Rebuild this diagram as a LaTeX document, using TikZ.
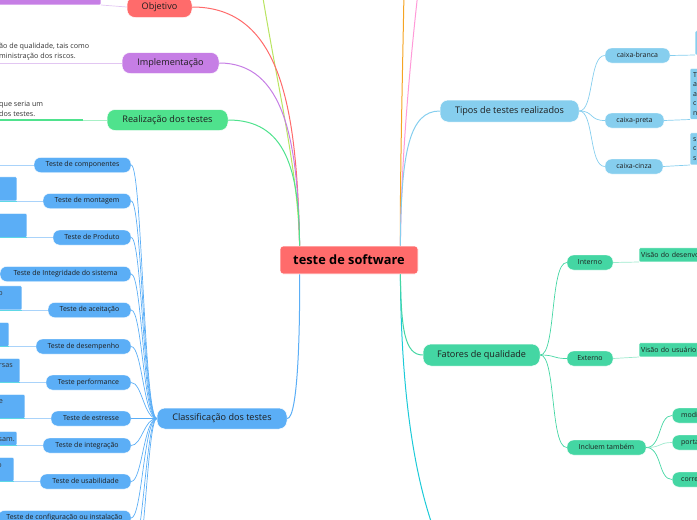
\documentclass[tikz,border=0pt]{standalone}
\usepackage{fontspec}
\setmainfont{Open Sans}
\usetikzlibrary{positioning}
\definecolor{objred}{HTML}{FF6B6B}
\definecolor{implpurple}{HTML}{C67EE5}
\definecolor{impllight}{HTML}{E2C6F2}
\definecolor{realgreen}{HTML}{4FE28D}
\definecolor{reallight}{HTML}{A8F0C6}
\definecolor{classblue}{HTML}{5BAEF6}
\definecolor{classlight}{HTML}{A9D3FA}
\definecolor{underteal}{HTML}{5ED8E6}
\definecolor{tiposblue}{HTML}{86CEEE}
\definecolor{fatgreen}{HTML}{44D6A3}
\definecolor{fatlight}{HTML}{9CE9CD}
\definecolor{limeline}{HTML}{B9E461}
\definecolor{orangeline}{HTML}{F5A524}
\definecolor{pinkline}{HTML}{FF9AD8}
\definecolor{cyanline}{HTML}{1CCAD8}
\definecolor{ink}{HTML}{1E1E1E}
\tikzset{
  root/.style   = {fill=objred, draw=white, line width=0.8pt, rounded corners=3pt,
                   minimum width=138pt, minimum height=28pt, inner sep=0pt,
                   font=\fontsize{12.8}{14}\selectfont\bfseries},
  topic/.style  = {fill=#1, draw=white, line width=0.5pt, rounded corners=8pt,
                   minimum height=21pt, inner sep=0pt, text=ink,
                   text height=6.6pt, text depth=2pt,
                   font=\fontsize{9.1}{10}\selectfont},
  pill/.style   = {fill=#1, draw=white, line width=0.4pt, rounded corners=6.5pt,
                   minimum height=15pt, inner sep=0pt, text=ink,
                   text height=5pt, text depth=1.5pt,
                   font=\fontsize{7}{8}\selectfont},
  leafbox/.style= {fill=#1, draw=white, line width=0.4pt, rounded corners=1pt,
                   inner sep=3pt, text=ink, align=left,
                   font=\fontsize{7}{9.4}\selectfont},
  note/.style   = {inner sep=0pt, align=left, text=black!80,
                   font=\fontsize{7.2}{10}\selectfont},
  link/.style   = {draw=#1, line width=1pt},
  twig/.style   = {draw=#1, line width=0.7pt},
}
\begin{document}
\begin{tikzpicture}[x=1pt,y=-1pt]
  \useasboundingbox (0,0) rectangle (697,520);
  \clip (0,0) rectangle (697,520);

  % centre
  \node[root] (soft) at (349,260) {teste de software};
  \coordinate (inNW) at ([xshift=20pt]soft.north west);
  \coordinate (inNE) at ([xshift=-18pt]soft.north east);
  \coordinate (inSW) at ([xshift=20pt]soft.south west);
  \coordinate (inSE) at ([xshift=-18pt]soft.south east);

  % branches above the page
  \coordinate (upLime) at (262,-8);
  \coordinate (upOrange) at (404,-8);
  \coordinate (upPink) at (418,-8);
  \coordinate (downCyan) at (434,530);
  \draw[link=limeline] (upLime) .. controls (278,90) and (298,170) .. (inNW);
  \draw[link=orangeline] (upOrange) .. controls (402,100) and (400,180) .. (inNE);
  \draw[link=pinkline] (upPink) .. controls (406,100) and (401,180) .. (inNE);
  \draw[link=cyanline] (inSE) .. controls (401,400) and (416,480) .. (downCyan);

  % left branches
  \node[topic=objred, minimum width=65pt] (obj) at (159.5,7) {Objetivo};
  \node[topic=implpurple, minimum width=97pt] (impl) at (170.5,63) {Implementação};
  \node[topic=realgreen, minimum width=121pt] (real) at (167.5,120) {Realização dos testes};
  \node[topic=classblue, minimum width=130pt] (class) at (222,418.5) {Classificação dos testes};

  \draw[link=objred] (obj.east) .. controls (282,7) and (297,110) .. (inNW);
  \draw[link=implpurple] (impl.east) .. controls (284,63) and (298,140) .. (inNW);
  \draw[link=realgreen] (real.east) .. controls (286,120) and (299,170) .. (inNW);
  \draw[link=classblue] (class.east) .. controls (298,418.5) and (300,330) .. (inSW);

  % leaves of the upper left branches
  \node[leafbox=implpurple, minimum width=130pt, minimum height=30pt,
        anchor=south east] (objleaf) at (101,5) {};
  \draw[twig=impllight] (objleaf.south east) -- (obj.west);

  \node[note, anchor=south west] (impltext) at (-1,60)
        {ão de qualidade, tais como\\ministração dos riscos.};
  \draw[twig=impllight] (impltext.south west |- impl.west) -- (impl.west);

  \node[note, anchor=south west] (realtext) at (-1,117)
        {que seria um\\dos testes.};
  \draw[twig=reallight] (realtext.south west |- real.west) -- (real.west);
  \draw[twig=realgreen, line width=1.2pt] (realtext.south west |- real.west) -- (83,120);

  % Classificacao dos testes
  \node[pill=classblue, minimum width=97pt] (comp) at (82.5,165) {Teste de componentes};
  \node[pill=classblue, minimum width=88pt] (mont) at (87,201) {Teste de montagem};
  \node[pill=classblue, minimum width=78pt] (prod) at (92,237.5) {Teste de Produto};
  \node[pill=classblue, minimum width=131pt] (integ) at (65.5,274) {Teste de Integridade do sistema};
  \node[pill=classblue, minimum width=83pt] (aceit) at (89.5,310) {Teste de aceitação};
  \node[pill=classblue, minimum width=95pt] (desemp) at (83.5,346.5) {Teste de desempenho};
  \node[pill=classblue, minimum width=85pt] (perf) at (88.5,382.5) {Teste performance};
  \node[pill=classblue, minimum width=80pt] (estr) at (91,418.5) {Teste de estresse};
  \node[pill=classblue, minimum width=88pt] (integr) at (87,445.5) {Teste de integração};
  \node[pill=classblue, minimum width=91pt] (usab) at (85.5,481.5) {Teste de usabilidade};
  \node[pill=classblue, minimum width=133pt] (config) at (64.5,518) {Teste de configuração ou instalação};
  \coordinate (moreA) at (131,555);
  \coordinate (moreB) at (131,590);

  \draw[twig=classblue] (class.west) .. controls (144,418.5) and (142,165) .. (comp.east);
  \draw[twig=classblue] (class.west) .. controls (144,418.5) and (142,201) .. (mont.east);
  \draw[twig=classblue] (class.west) .. controls (144,418.5) and (142,237.5) .. (prod.east);
  \draw[twig=classblue] (class.west) .. controls (144,418.5) and (142,274) .. (integ.east);
  \draw[twig=classblue] (class.west) .. controls (144,418.5) and (142,310) .. (aceit.east);
  \draw[twig=classblue] (class.west) .. controls (144,418.5) and (142,346.5) .. (desemp.east);
  \draw[twig=classblue] (class.west) .. controls (144,418.5) and (142,382.5) .. (perf.east);
  \draw[twig=classblue] (class.west) -- (estr.east);
  \draw[twig=classblue] (class.west) .. controls (144,418.5) and (142,445.5) .. (integr.east);
  \draw[twig=classblue] (class.west) .. controls (144,418.5) and (142,481.5) .. (usab.east);
  \draw[twig=classblue] (class.west) .. controls (144,418.5) and (142,518) .. (config.east);
  \draw[twig=classblue] (class.west) .. controls (146,418.5) and (143,555) .. (moreA);
  \draw[twig=classblue] (class.west) .. controls (147,418.5) and (144,590) .. (moreB);

  % leaves cut by the left edge
  \node[leafbox=classblue, minimum width=40pt, minimum height=24pt, anchor=south east] (montleaf) at (17,201) {};
  \node[leafbox=classblue, minimum width=50pt, minimum height=24pt, anchor=south east] (prodleaf) at (27,237.5) {};
  \node[leafbox=classblue, minimum width=45pt, minimum height=24pt, anchor=south east] (aceitleaf) at (22,310) {};
  \node[leafbox=classblue, minimum width=32pt, minimum height=24pt, anchor=south east] (desempleaf) at (9,346.5) {};
  \node[leafbox=classblue, minimum width=43pt, minimum height=24pt, anchor=south east] (perfleaf) at (20,382.5) {};
  \node[leafbox=classblue, minimum width=48pt, minimum height=24pt, anchor=south east] (estrleaf) at (25,418.5) {};
  \node[leafbox=classblue, minimum width=40pt, minimum height=14pt, anchor=south east] (integrleaf) at (17,445.5) {};
  \node[leafbox=classblue, minimum width=37pt, minimum height=24pt, anchor=south east] (usableaf) at (14,481.5) {};
  \node[note, anchor=base east] at (3,295) {o};
  \node[note, anchor=base east] at (13,367) {rsas};
  \node[note, anchor=base east] at (3,403) {e};
  \node[note, anchor=base east] at (15,441) {sam.};
  \node[note, anchor=base east] at (2,467) {o};

  \draw[twig=classlight] (montleaf.south east) -- (mont.west);
  \draw[twig=classlight] (prodleaf.south east) -- (prod.west);
  \draw[twig=classlight] (aceitleaf.south east) -- (aceit.west);
  \draw[twig=classlight] (desempleaf.south east) -- (desemp.west);
  \draw[twig=classlight] (perfleaf.south east) -- (perf.west);
  \draw[twig=classlight] (estrleaf.south east) -- (estr.west);
  \draw[twig=classlight] (integrleaf.south east) -- (integr.west);
  \draw[twig=classlight] (usableaf.south east) -- (usab.west);
  \draw[twig=classlight] (comp.west) -- ++(-40,0);
  \draw[twig=underteal] (montleaf.south west) -- (montleaf.south east);
  \draw[twig=underteal] (prodleaf.south west) -- (prodleaf.south east);
  \draw[twig=underteal] (aceitleaf.south west) -- (aceitleaf.south east);
  \draw[twig=underteal] (desempleaf.south west) -- (desempleaf.south east);
  \draw[twig=underteal] (perfleaf.south west) -- (perfleaf.south east);
  \draw[twig=underteal] (estrleaf.south west) -- (estrleaf.south east);
  \draw[twig=underteal] (integrleaf.south west) -- (integrleaf.south east);
  \draw[twig=underteal] (usableaf.south west) -- (usableaf.south east);

  % right branches
  \node[topic=tiposblue, minimum width=139pt, minimum height=22pt] (tipos) at (509.5,111) {Tipos de testes realizados};
  \node[topic=fatgreen, minimum width=117pt, minimum height=22pt] (fat) at (481.5,355) {Fatores de qualidade};
  \draw[link=tiposblue] (inNE) .. controls (401,150) and (410,111) .. (tipos.west);
  \draw[link=fatgreen] (inSE) .. controls (401,330) and (405,355) .. (fat.west);

  % Tipos de testes realizados
  \node[pill=tiposblue, minimum width=65pt] (branca) at (637.5,55.5) {caixa-branca};
  \node[pill=tiposblue, minimum width=59pt] (preta) at (634.5,120.5) {caixa-preta};
  \node[pill=tiposblue, minimum width=58pt] (cinza) at (634,166.5) {caixa-cinza};
  \draw[twig=tiposblue] (tipos.east) .. controls (594,111) and (589,55.5) .. (branca.west);
  \draw[twig=tiposblue] (tipos.east) .. controls (594,111) and (589,120.5) .. (preta.west);
  \draw[twig=tiposblue] (tipos.east) .. controls (594,111) and (589,166.5) .. (cinza.west);

  \node[leafbox=tiposblue, minimum width=40pt, minimum height=24pt, anchor=south west] (brancaleaf) at (695,55) {};
  \node[leafbox=tiposblue, text width=30pt, minimum height=51pt, anchor=south west] (pretaleaf) at (690,119.5) {T\\a\\a\\c\\n};
  \node[leafbox=tiposblue, text width=30pt, minimum height=32pt, anchor=south west] (cinzaleaf) at (690,165) {s\\c\\s};
  \draw[twig=tiposblue] (branca.east) -- (brancaleaf.south west);
  \draw[twig=tiposblue] (preta.east) -- (pretaleaf.south west);
  \draw[twig=tiposblue] (cinza.east) -- (cinzaleaf.south west);

  % Fatores de qualidade
  \node[pill=fatgreen, minimum width=46pt] (interno) at (590,262.5) {Interno};
  \node[pill=fatgreen, minimum width=46pt] (externo) at (590,358.5) {Externo};
  \node[pill=fatgreen, minimum width=79pt] (incluem) at (606.5,447.5) {Incluem também};
  \draw[twig=fatgreen] (fat.east) .. controls (556,355) and (550,262.5) .. (interno.west);
  \draw[twig=fatgreen] (fat.east) .. controls (556,355) and (552,358.5) .. (externo.west);
  \draw[twig=fatgreen] (fat.east) .. controls (556,355) and (550,447.5) .. (incluem.west);

  \node[leafbox=fatgreen, text width=80pt, minimum height=14pt, anchor=south west, inner sep=2pt] (internoleaf) at (639,262) {Visão do desenvolvedor};
  \node[leafbox=fatgreen, text width=80pt, minimum height=14pt, anchor=south west, inner sep=2pt] (externoleaf) at (639,357) {Visão do usuário};
  \draw[twig=fatlight] (interno.east) -- (internoleaf.south west);
  \draw[twig=fatlight] (externo.east) -- (externoleaf.south west);

  \node[pill=fatgreen, text width=60pt, anchor=west, inner xsep=9pt] (modif) at (672,415.5) {modificabilidade};
  \node[pill=fatgreen, text width=60pt, anchor=west, inner xsep=9pt] (portab) at (672,442.5) {portabilidade};
  \node[pill=fatgreen, text width=60pt, anchor=west, inner xsep=9pt] (corret) at (672,479.5) {corretude};
  \draw[twig=fatgreen] (incluem.east) .. controls (662,447.5) and (658,415.5) .. (modif.west);
  \draw[twig=fatlight] (incluem.east) .. controls (662,447.5) and (658,442.5) .. (portab.west);
  \draw[twig=fatgreen] (incluem.east) .. controls (662,447.5) and (658,479.5) .. (corret.west);
\end{tikzpicture}
\end{document}
